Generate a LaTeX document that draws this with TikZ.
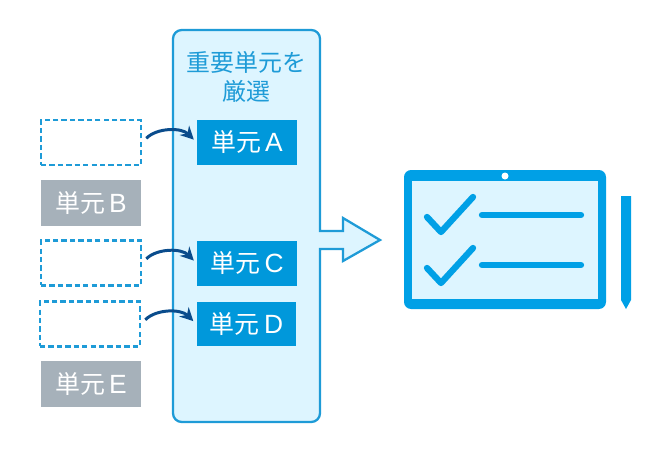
\documentclass[tikz,border=0pt]{standalone}
\usepackage{fontspec}
\setmainfont{Noto Sans CJK JP}
\newfontfamily\latinfont{Liberation Sans}
\usepackage{xcolor}
\usetikzlibrary{arrows.meta}
\definecolor{unitblue}{HTML}{0098DB}
\definecolor{tabletblue}{HTML}{00A0E6}
\definecolor{panelblue}{HTML}{DDF5FF}
\definecolor{lineblue}{HTML}{1E9BD7}
\definecolor{unitgray}{HTML}{A6B1BA}
\definecolor{arrowblue}{HTML}{0A4C8C}
\newcommand{\unitname}[1]{単元\,{\latinfont\fontsize{15}{16}\selectfont #1}}
\tikzset{
  picked/.style={fill=unitblue,text=white,minimum width=2cm,minimum height=0.9cm,inner sep=0pt,font=\fontsize{14.2}{16}\selectfont},
  dropped/.style={fill=unitgray,text=white,minimum width=2cm,minimum height=0.92cm,inner sep=0pt,font=\fontsize{14.2}{16}\selectfont},
  blank/.style={draw=lineblue,dash pattern=on 3pt off 1.8pt,line width=1.2pt,fill=white,minimum width=2cm,minimum height=0.9cm,inner sep=0pt},
  moved/.style={->,draw=arrowblue,line width=1.7pt,shorten <=3.4pt,shorten >=2.3pt,bend left=45},
  tick/.style={draw=tabletblue,line width=3.6pt,line cap=round,line join=round},
}

\begin{document}
\begin{tikzpicture}[x=0.02cm,y=-0.02cm,>={Stealth[length=7.5pt,width=7.5pt]}]
  \useasboundingbox (0,0) rectangle (670,450);
  \draw[draw=lineblue,fill=panelblue,line width=1.3pt]
    (320,231) -- (343,231) -- (343,218) -- (380,240) -- (343,261) -- (343,249) -- (320,249)
    [rounded corners=5pt] -- (320,422) -- (173,422) -- (173,30) -- (320,30) [sharp corners] -- cycle;
  \node[text=lineblue,align=center,font=\fontsize{13.6}{16.5}\selectfont] (title) at (246.5,76.5) {重要単元を\\厳選};

  \node[blank] (d1) at (91,142.5) {};
  \node[dropped] (b) at (91,203) {\unitname{B}};
  \node[blank] (d2) at (91,263) {};
  \node[blank] (d3) at (90,324) {};
  \node[dropped] (e) at (91,384) {\unitname{E}};

  \node[picked] (a) at (247,142.5) {\unitname{A}};
  \node[picked] (c) at (247,263.5) {\unitname{C}};
  \node[picked] (f) at (246.5,324) {\unitname{D}};

  \draw[moved] (d1.east) to (a.west);
  \draw[moved] (d2.east) to (c.west);
  \draw[moved] (d3.east) to (f.west);

  \draw[fill=tabletblue,draw=none,rounded corners=4pt] (404,170) rectangle (606,309);
  \fill[panelblue] (412,181) rectangle (598,299);
  \fill[white] (505,176) circle (3.5);
  \draw[tick] (427,217) -- (441,232) -- (473,197);
  \draw[tick] (427,268) -- (441,283) -- (473,248);
  \draw[tick] (482,215) -- (581,215);
  \draw[tick] (482,265) -- (581,265);
  \fill[tabletblue] (621,196) -- (631,196) -- (631,300) -- (626,309) -- (621,300) -- cycle;
\end{tikzpicture}
\end{document}
